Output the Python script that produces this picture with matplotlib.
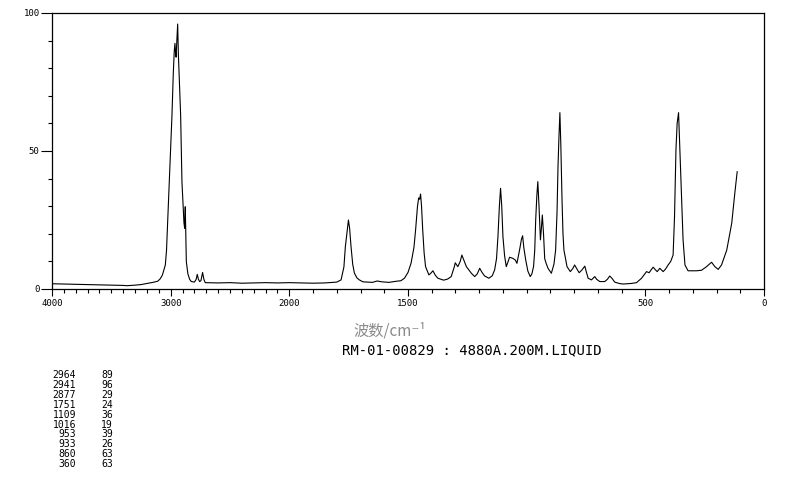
import matplotlib
matplotlib.use('Agg')
import matplotlib.pyplot as plt
import numpy as np
from matplotlib.ticker import FixedLocator, NullFormatter

# Raman spectrum (wavenumber, relative intensity)
wavenumber = [
    4000, 3900, 3800, 3700, 3600, 3500, 3400, 3370, 3300, 3250, 3200, 3150, 3110,
    3090, 3070, 3050, 3045, 3035, 3023, 3010, 2989, 2978, 2970, 2964, 2958, 2954,
    2948, 2941, 2935, 2925, 2916, 2905, 2895, 2888, 2882, 2877, 2872, 2868, 2855,
    2840, 2826, 2800, 2785, 2776, 2766, 2756, 2745, 2731, 2720, 2709, 2600, 2500,
    2400, 2300, 2200, 2100, 2000, 1900, 1850, 1800, 1782, 1770, 1764, 1755, 1751,
    1746, 1740, 1733, 1726, 1715, 1705, 1690, 1650, 1630, 1610, 1580, 1550, 1530,
    1515, 1500, 1487, 1475, 1468, 1460, 1455, 1451, 1447, 1443, 1438, 1432, 1426,
    1412, 1403, 1395, 1385, 1374, 1350, 1333, 1318, 1305, 1301, 1290, 1280, 1273,
    1265, 1254, 1233, 1219, 1208, 1198, 1188, 1177, 1159, 1145, 1135, 1127, 1121,
    1115, 1110, 1105, 1100, 1093, 1086, 1080, 1072, 1058, 1048, 1041, 1030, 1022,
    1017, 1012, 1004, 995, 985, 978, 971, 966, 962, 957, 953, 948, 942, 938, 934,
    929, 924, 918, 910, 896, 885, 878, 872, 868, 864, 860, 856, 851, 847, 843, 830,
    816, 805, 798, 790, 779, 768, 755, 748, 741, 727, 713, 705, 692, 671, 660, 650,
    640, 629, 610, 594, 560, 537, 516, 495, 484, 475, 467, 458, 450, 439, 425, 415,
    404, 393, 383, 377, 371, 366, 360, 355, 349, 341, 333, 320, 305, 284, 263, 242,
    221, 207, 193, 179, 157, 136, 123, 113,
]
intensity = [
    1.9, 1.8, 1.7, 1.6, 1.5, 1.4, 1.3, 1.2, 1.4, 1.6, 2.0, 2.4, 2.8,
    3.6, 5.0, 8.0, 8.7, 14, 26.8, 40, 63, 78, 86, 89, 85, 84,
    90, 96, 85, 73, 63, 38.9, 30, 24, 22, 29.8, 18, 9.9, 5.5,
    3.5, 2.7, 2.5, 3.5, 5.3, 3.5, 2.7, 3.0, 6.0, 3.5, 2.3, 2.2, 2.3,
    2.1, 2.2, 2.3, 2.2, 2.3, 2.1, 2.2, 2.5, 3.3, 8, 15.3, 22, 25,
    22, 15.3, 9, 5.8, 4.0, 3.3, 2.6, 2.4, 2.9, 2.6, 2.4, 2.8, 3.0,
    3.9, 6.0, 9.4, 15, 21.4, 30, 33, 32.5, 34.4, 30, 21.4, 13, 8.1,
    5.1, 5.8, 6.6, 5.0, 3.9, 3.2, 3.6, 4.5, 8, 9.5, 8.1, 10, 12.3,
    10.5, 8.1, 5.7, 4.5, 5.5, 7.5, 6, 4.7, 3.9, 4.8, 6.9, 11, 19,
    30, 36.5, 30, 19, 12, 8.1, 9.5, 11.5, 11.1, 10.5, 9.3, 14.1, 18,
    19.3, 15, 10.5, 6.5, 4.5, 5.5, 8.1, 14, 25, 34, 38.9, 30, 17.8, 22, 26.8,
    20, 11, 9.3, 7.5, 5.7, 9, 14.1, 28, 44.3, 55, 63.9, 52, 32.2, 20, 14.1, 8.1,
    6.3, 7.5, 8.7, 7.5, 5.9, 6.8, 8.3, 6, 3.9, 3.3, 4.5, 3.5, 2.7, 2.7, 3.5, 4.7,
    3.8, 2.5, 2.0, 1.8, 2.0, 2.3, 3.9, 6.3, 5.9, 7.0, 7.9, 7.0, 6.3, 7.5, 6.3, 7.2,
    8.7, 10, 12.3, 26.2, 50.4, 60, 63.9, 52, 38.3, 17.8, 8.7, 6.6, 6.6, 6.6, 6.8, 8.1,
    9.7, 8.1, 7.1, 8.7, 14.1, 23.8, 34.7, 42.5,
]

# peak table printed under the chart
peak_pos = ['2964', '2941', '2877', '1751', '1109', '1016', '953', '933', '860', '360']
peak_int = ['89', '96', '29', '24', '36', '19', '39', '26', '63', '63']

x_major = [4000, 3000, 2000, 1500, 500, 0]
y_major = [0, 50, 100]


# scale halves above 2000 cm-1
def fwd(x):
    x = np.asarray(x, dtype=float)
    return np.where(x <= 2000, x, 2000 + (x - 2000) / 2)


def inv(u):
    u = np.asarray(u, dtype=float)
    return np.where(u <= 2000, u, 2000 + (u - 2000) * 2)


fig = plt.figure(figsize=(7.94, 4.82), dpi=100)
ax = fig.add_axes([52 / 794, 1 - 289 / 482, 712 / 794, 276 / 482])

ax.plot(wavenumber, intensity, color='black', lw=0.8)

ax.set_xscale('function', functions=(fwd, inv))
ax.set_xlim(4000, 0)
ax.set_ylim(0, 100)

ax.xaxis.set_major_locator(FixedLocator(x_major))
ax.xaxis.set_minor_locator(FixedLocator(np.arange(0, 4001, 100)))
ax.xaxis.set_minor_formatter(NullFormatter())
ax.set_xticklabels([str(v) for v in x_major])
ax.yaxis.set_major_locator(FixedLocator(y_major))
ax.yaxis.set_minor_locator(FixedLocator(np.arange(0, 101, 10)))
ax.set_yticklabels([str(v) for v in y_major])

ax.tick_params(axis='x', which='major', length=5, width=0.8, pad=2, labelsize=6.5)
ax.tick_params(axis='x', which='minor', length=3, width=0.8)
ax.tick_params(axis='y', which='major', length=8, width=0.8, pad=1, labelsize=6.5)
ax.tick_params(axis='y', which='minor', length=3, width=0.8)
for lab in ax.get_xticklabels() + ax.get_yticklabels():
    lab.set_family('DejaVu Sans Mono')
for sp in ax.spines.values():
    sp.set_linewidth(0.9)

fig.text(390 / 794, 1 - 331 / 482, '波数/cm⁻¹', ha='center', va='center',
         fontsize=11, color='#8a8a8a', family=['Noto Sans CJK SC', 'DejaVu Sans'])
fig.text(472 / 794, 1 - 350 / 482, 'RM-01-00829 : 4880A.200M.LIQUID',
         ha='center', va='center', fontsize=10, family='DejaVu Sans Mono')

for i, (p, v) in enumerate(zip(peak_pos, peak_int)):
    y = 1 - (375 + 9.9 * i) / 482
    fig.text(76 / 794, y, p, ha='right', va='center', fontsize=7, family='DejaVu Sans Mono')
    fig.text(113 / 794, y, v, ha='right', va='center', fontsize=7, family='DejaVu Sans Mono')

plt.savefig('out.png', dpi=100)
